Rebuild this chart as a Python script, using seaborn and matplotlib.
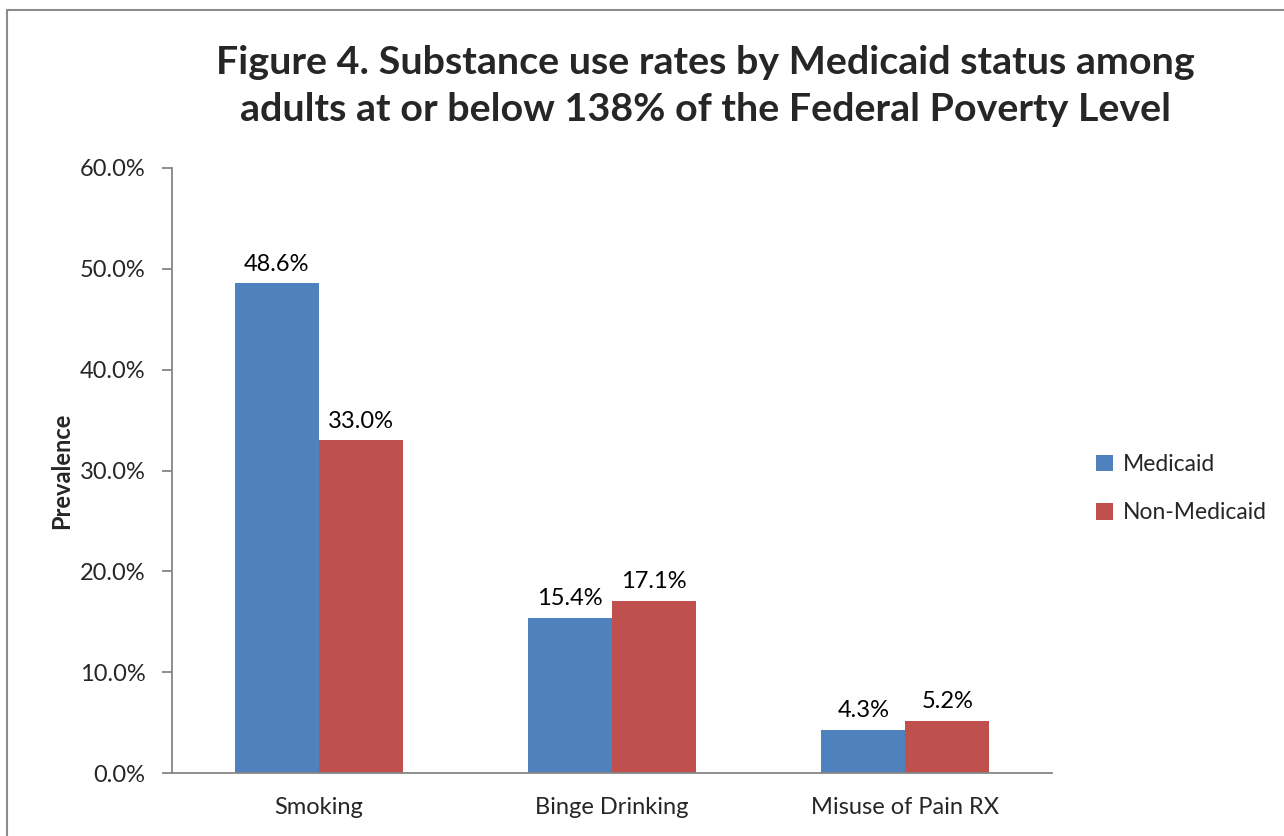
import matplotlib
matplotlib.use("Agg")
import matplotlib.pyplot as plt
import seaborn as sns
import pandas as pd
from matplotlib.patches import Rectangle
from matplotlib.ticker import FuncFormatter, FixedLocator

categories = ["Smoking", "Binge Drinking", "Misuse of Pain RX"]
medicaid = [48.6, 15.4, 4.3]
non_medicaid = [33.0, 17.1, 5.2]
series_names = ["Medicaid", "Non-Medicaid"]
colors = ["#4F81BD", "#C0504D"]

df = pd.DataFrame({
    "Category": categories * 2,
    "Status": [series_names[0]] * 3 + [series_names[1]] * 3,
    "Value": medicaid + non_medicaid,
})

sns.set_style("white")
plt.rcParams["font.family"] = ["Lato", "DejaVu Sans"]

FS = 17

fig = plt.figure(figsize=(12.84, 8.36), dpi=100)
ax = fig.add_axes([172/1284, 63/836, (1052-172)/1284, (773-168)/836])

sns.barplot(data=df, x="Category", y="Value", hue="Status", palette=colors,
            width=0.573, ax=ax, saturation=1, legend=True, errorbar=None,
            linewidth=0)

for cont in ax.containers:
    ax.bar_label(cont, labels=[f"{v:.1f}%" for v in cont.datavalues],
                 padding=6, fontsize=FS, color="#000000")

ax.set_xlim(-0.5, 2.5)
ax.set_ylim(0, 60)
ax.yaxis.set_major_locator(FixedLocator([0, 10, 20, 30, 40, 50, 60]))
ax.yaxis.set_major_formatter(FuncFormatter(lambda v, p: f"{v:.1f}%"))
ax.set_xticks([0, 1, 2])
ax.set_xticklabels(categories, fontsize=FS)
ax.set_xticks([-0.5, 0.5, 1.5, 2.5], minor=True)
ax.tick_params(axis="x", which="major", length=0, pad=17)
ax.tick_params(axis="x", which="minor", length=7, width=1.3, color="#868686", direction="out")
ax.tick_params(axis="y", length=7, width=1.3, color="#868686", direction="out", labelsize=FS, pad=12)
ax.tick_params(bottom=True, left=True)

for s in ["top", "right"]:
    ax.spines[s].set_visible(False)
for s in ["left", "bottom"]:
    ax.spines[s].set_color("#868686")
    ax.spines[s].set_linewidth(1.3)

ax.set_xlabel("")
ax.set_ylabel("Prevalence", fontsize=FS, fontweight="bold")
ax.yaxis.set_label_coords(-0.112, 0.5)

leg = ax.legend(loc="center left", bbox_to_anchor=(1.026, 0.47), frameon=False,
                fontsize=16.5, handlelength=0.75, handleheight=0.75,
                labelspacing=1.2, handletextpad=0.45)

fig.text(705/1284, 1 - 86/836,
         "Figure 4. Substance use rates by Medicaid status among\nadults at or below 138% of the Federal Poverty Level",
         ha="center", va="center", fontsize=28.4, fontweight="bold", linespacing=1.4)

fig.patches.append(Rectangle((7/1284, -0.1), 1.2, 1.1 - 10/836, transform=fig.transFigure,
                             fill=False, edgecolor="#8c8c8c", linewidth=1.5))

fig.savefig("out.png", dpi=100)
